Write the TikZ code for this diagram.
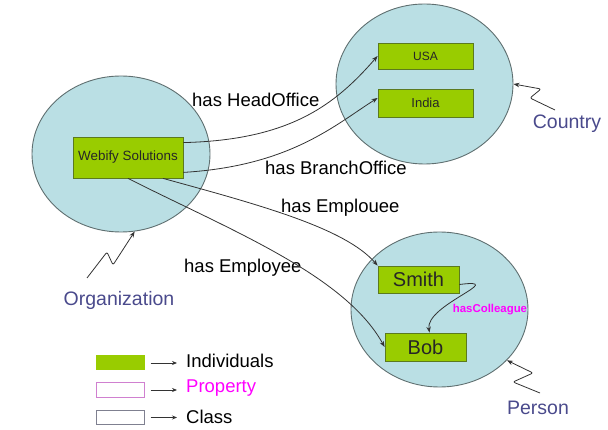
\documentclass[tikz,border=0pt]{standalone}
\usepackage{fontspec}
\setmainfont{Liberation Sans}
\usetikzlibrary{shapes.geometric,arrows.meta}
\definecolor{clsfill}{HTML}{BADFE4}
\definecolor{clsdraw}{HTML}{5F6F70}
\definecolor{indfill}{HTML}{99CC00}
\definecolor{inddraw}{HTML}{5C7A1E}
\definecolor{clslabel}{HTML}{4A4A8C}
\definecolor{propcol}{HTML}{FF00FF}
\definecolor{propbox}{HTML}{D080D0}
\definecolor{classbox}{HTML}{7F8090}
\definecolor{edgecol}{HTML}{333333}
\tikzset{
  clsellipse/.style={ellipse, draw=clsdraw, fill=clsfill, line width=0.9pt, inner sep=0pt},
  indbox/.style={rectangle, draw=inddraw, fill=indfill, line width=0.8pt, inner sep=0pt, text=black!85},
  clstext/.style={text=clslabel, font=\fontsize{19.5}{22}\selectfont, inner sep=0pt},
  reltext/.style={text=black, font=\fontsize{18.5}{21}\selectfont, inner sep=0pt, anchor=west},
  rel/.style={draw=edgecol, line width=0.8pt, -{Stealth[length=6pt,width=4.5pt]}},
  squig/.style={draw=edgecol, line width=0.8pt, rounded corners=2pt, -{Stealth[length=6pt,width=4.5pt]}},
  legbox/.style={rectangle, minimum width=48pt, minimum height=14pt, inner sep=0pt, line width=1pt},
  legarrow/.style={draw=edgecol, line width=0.8pt, -{Stealth[length=5pt,width=4pt]}},
}
\begin{document}
\begin{tikzpicture}[x=1pt,y=-1pt]
\useasboundingbox (0,0) rectangle (608,430);
% class ellipses
\node[clsellipse, minimum width=178pt, minimum height=156pt] (org) at (121,154) {};
\node[clsellipse, minimum width=177pt, minimum height=160pt] (country) at (424.5,84) {};
\node[clsellipse, minimum width=177pt, minimum height=155pt] (person) at (439.5,309.5) {};
% individuals
\node[indbox, minimum width=110pt, minimum height=41pt, font=\fontsize{13.4}{15}\selectfont] (web) at (128,157.5) {Webify Solutions};
\node[indbox, minimum width=95pt, minimum height=26pt, font=\fontsize{12}{14}\selectfont] (usa) at (425.5,56) {USA};
\node[indbox, minimum width=95pt, minimum height=28pt, font=\fontsize{13}{15}\selectfont] (india) at (425.5,103) {India};
\node[indbox, minimum width=81pt, minimum height=27pt, font=\fontsize{20}{22}\selectfont] (smith) at (418.5,279.5) {Smith};
\node[indbox, minimum width=81pt, minimum height=28pt, font=\fontsize{20}{22}\selectfont] (bob) at (425.5,347) {Bob};
% class labels
\node[clstext] (orglab) at (119,300) {Organization};
\node[clstext] (countrylab) at (567,124) {Country};
\node[clstext] (personlab) at (538,408) {Person};
% relation labels
\node[reltext] (lhead) at (192,100) {has HeadOffice};
\node[reltext] (lbranch) at (265,168) {has BranchOffice};
\node[reltext] (lemplouee) at (281,208) {has Emplouee};
\node[reltext] (lemployee) at (184,268) {has Employee};
\node[text=propcol, font=\bfseries\fontsize{11.4}{13}\selectfont, inner sep=0pt] (lcoll) at (490,310) {hasColleague};
% relations
\draw[rel] ([yshift=-6pt]web.north east) .. controls (290,140) and (335,105) .. (usa.west);
\draw[rel] ([yshift=6pt]web.south east) .. controls (290,166) and (335,125) .. ([yshift=5pt]india.west);
\draw[rel] ([xshift=35pt]web.south) .. controls (260,205) and (345,228) .. (smith.north west);
\draw[rel] (web.south) .. controls (230,230) and (345,275) .. (bob.west);
\draw[rel] ([yshift=-5pt]smith.east) .. controls (510,278) and (425,305) .. ([xshift=4pt]bob.north);
% class pointers
\coordinate (cstart) at (555,110);
\coordinate (pstart) at (540,393);
\coordinate (ostart) at (87,278);
\draw[squig] (cstart) -- (530,98) -- (541,89) -- (country.east);
\draw[squig] (pstart) -- (513,382) -- (533,373) -- (person.-37);
\draw[squig] (ostart) -- (107,252) -- (113,265) -- (org.-80);
% legend
\node[legbox, fill=indfill, draw=indfill] (lgind) at (120,363) {};
\node[legbox, draw=propbox] (lgprop) at (120,390) {};
\node[legbox, draw=classbox] (lgclass) at (120,417.5) {};
\node[reltext] (tind) at (186,361) {Individuals};
\node[reltext, text=propcol] (tprop) at (186,388) {Property};
\node[reltext] (tclass) at (186,417) {Class};
\draw[legarrow] ([xshift=6pt]lgind.east) -- ([xshift=-9pt]tind.west |- lgind.east);
\draw[legarrow] ([xshift=6pt]lgprop.east) -- ([xshift=-9pt]tprop.west |- lgprop.east);
\draw[legarrow] ([xshift=6pt]lgclass.east) -- ([xshift=-9pt]tclass.west |- lgclass.east);
\end{tikzpicture}
\end{document}
